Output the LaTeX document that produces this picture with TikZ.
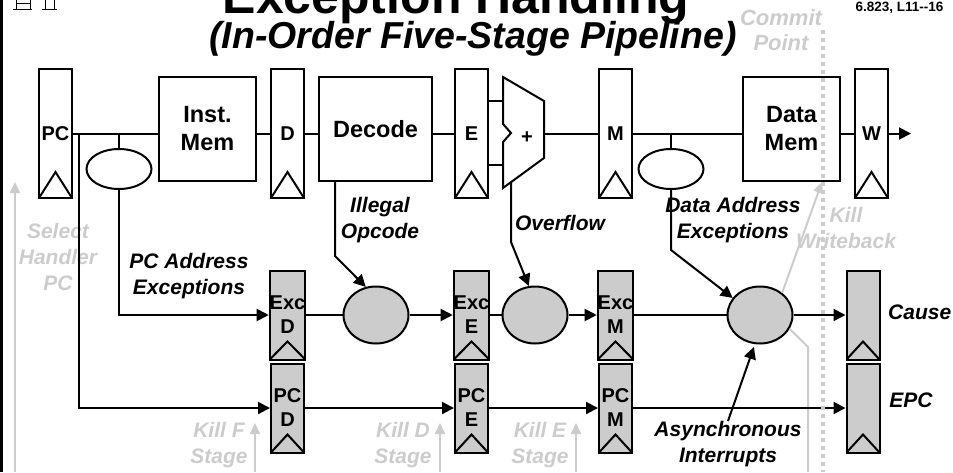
\documentclass[tikz,border=0pt]{standalone}
\usepackage{fontspec}
\setmainfont{Liberation Sans}
\usepackage{xcolor}
\usetikzlibrary{arrows.meta, positioning, calc, shapes.geometric}
\definecolor{killgrey}{gray}{0.8}
\definecolor{regfill}{gray}{0.8}
\newcommand\regfont{\fontsize{20}{24}\selectfont\bfseries}
\newcommand\boxfont{\fontsize{23.5}{28}\selectfont\bfseries}
\newcommand\lblfont{\fontsize{21}{26}\selectfont\bfseries\itshape}
\newcommand\cmtfont{\fontsize{22}{25}\selectfont\bfseries\itshape}
\tikzset{
  reg/.style   = {rectangle, draw, line width=2pt, fill=white, minimum width=33pt,
                  minimum height=129pt, inner sep=0pt, align=center, font=\regfont,
                  path picture={\draw[line width=2pt]
                    (path picture bounding box.south west)
                    -- ([yshift=#1]path picture bounding box.south)
                    -- (path picture bounding box.south east);}},
  reg/.default = 26pt,
  greg/.style  = {reg=18pt, fill=regfill, minimum height=89pt},
  mem/.style   = {rectangle, draw, line width=2pt, fill=white, minimum width=97pt,
                  minimum height=104pt, inner sep=0pt, align=center, font=\boxfont},
  oval/.style  = {ellipse, draw, line width=2pt, fill=white, minimum width=65pt,
                  minimum height=40pt, inner sep=0pt},
  goval/.style = {oval, fill=regfill, minimum height=57pt},
  wire/.style  = {line width=2pt},
  arr/.style   = {-{Triangle[length=12pt, width=12pt]}, line width=2pt},
  garr/.style  = {-{Triangle[length=11pt, width=10pt]}, line width=2pt, draw=killgrey},
  gwire/.style = {line width=2pt, draw=killgrey},
  commit/.style = {line width=4pt, draw=killgrey, dash pattern=on 4pt off 4pt},
  lbl/.style   = {font=\lblfont, align=center, inner sep=0pt},
  glbl/.style  = {lbl, text=killgrey},
}

\begin{document}
\begin{tikzpicture}[x=1pt, y=-1pt]
  \useasboundingbox (0,0) rectangle (953,472);

  % slide frame, logos, titles
  \fill (0,0) rectangle (3,472);
  \draw[line width=0.7pt] (13,9) -- (32,9) (16,9) -- (16,0) (30,9) -- (30,0)
    (16,3) -- (30,3);
  \draw[line width=0.7pt] (42,9) -- (57,9) (45,9) -- (45,0) (54,9) -- (54,0);
  \node[anchor=base, font=\fontsize{50}{60}\selectfont\bfseries] (title)
    at (456,13) {Exception Handling};
  \node[anchor=base, font=\fontsize{37.5}{44}\selectfont\bfseries\itshape] (subtitle)
    at (473,48) {(In-Order Five-Stage Pipeline)};
  \node[anchor=base east, font=\fontsize{13.5}{16}\selectfont\bfseries] (lecref)
    at (947,11) {6.823, L11-{}-16};

  % kill signals (grey)
  \node[glbl] (sel) at (58,257) {Select\\Handler\\PC};
  \node[glbl] (killf) at (219,445) {Kill F\\Stage};
  \node[glbl] (killd) at (403,445) {Kill D\\Stage};
  \node[glbl] (kille) at (540,445) {Kill E\\Stage};
  \node[glbl] (killw) at (846,228) {Kill\\Writeback};
  \node[glbl, font=\cmtfont] (cmt) at (781,30) {Commit\\Point};

  \coordinate (selbot) at (15,472);   \coordinate (seltip) at (15,182);
  \coordinate (kfbot) at (255,472);   \coordinate (kftip) at (255,423);
  \coordinate (kdbot) at (440,472);   \coordinate (kdtip) at (440,423);
  \coordinate (kebot) at (576,472);   \coordinate (ketip) at (576,423);
  \coordinate (kwtip) at (822,182);
  \coordinate (gbend) at (808,347);   \coordinate (gbot) at (808,472);

  \draw[garr] (selbot) -- (seltip);
  \draw[garr] (kfbot) -- (kftip);
  \draw[garr] (kdbot) -- (kdtip);
  \draw[garr] (kebot) -- (ketip);

  % pipeline
  \node[reg] (pc) at (55.5,133.5) {PC};
  \node[mem] (imem) at (207.5,129) {Inst.\\Mem};
  \node[reg] (dreg) at (287.5,133.5) {D};
  \node[mem, minimum width=113pt] (dec) at (375.5,129) {Decode};
  \node[reg] (ereg) at (471.5,133.5) {E};
  \node[reg] (mreg) at (615.5,133.5) {M};
  \node[mem] (dmem) at (791.5,129) {Data\\Mem};
  \node[reg] (wreg) at (871.5,133.5) {W};

  \node[oval] (ovf) at (119,169) {};
  \node[oval] (ovdm) at (671,169) {};

  % ALU
  \coordinate (aluA) at (503,101);
  \coordinate (aluB) at (503,165);
  \coordinate (aluO) at (544,133.5);
  \coordinate (aluS) at (511,182);
  \draw[wire] (503,77) -- (544,101) -- (544,158) -- (503,188) -- (503,142)
    -- (511,133) -- (503,124) -- cycle;
  \node[font=\regfont] (plus) at (527,138) {+};

  \coordinate (brpc) at (79,133.5);
  \coordinate (brim) at (119,133.5);
  \coordinate (brdm) at (671,133.5);
  \coordinate (wout) at (911,133.5);

  \draw[wire] (pc.east) -- (pc.east -| imem.west);
  \draw[wire] (imem.east |- dreg.west) -- (dreg.west);
  \draw[wire] (dreg.east) -- (dreg.east -| dec.west);
  \draw[wire] (dec.east |- ereg.west) -- (ereg.west);
  \draw[wire] (ereg.east |- aluA) -- (aluA);
  \draw[wire] (ereg.east |- aluB) -- (aluB);
  \draw[wire] (aluO) -- (aluO -| mreg.west);
  \draw[wire] (mreg.east) -- (mreg.east -| dmem.west);
  \draw[wire] (dmem.east |- wreg.west) -- (wreg.west);
  \draw[arr] (wreg.east) -- (wout);

  % exception and PC pipelines
  \node[greg] (excd) at (287.5,315) {Exc\\D};
  \node[greg] (exce) at (471.5,315) {Exc\\E};
  \node[greg] (excm) at (615.5,315) {Exc\\M};
  \node[greg] (cause) at (863,315) {};
  \node[greg] (pcd) at (287.5,408) {PC\\D};
  \node[greg] (pce) at (471.5,408) {PC\\E};
  \node[greg] (pcm) at (615.5,408) {PC\\M};
  \node[greg] (epc) at (863,408) {};

  \node[goval] (ovd) at (376,315) {};
  \node[goval] (ove) at (535,315) {};
  \node[goval] (ovm) at (760,315) {};

  \draw[gwire] (ovm.-25) -- (gbend) -- (gbot);
  \draw[garr] (ovm.45) -- (kwtip);

  \draw[wire] (brim) -- (ovf.north);
  \draw[arr] (ovf.south) |- (excd.west);
  \draw[arr] (brpc) |- (pcd.west);
  \draw[wire] (brdm) -- (ovdm.north);

  \draw[wire] (excd.east) -- (ovd.west);
  \draw[arr] (ovd.east) -- (exce.west);
  \draw[wire] (exce.east) -- (ove.west);
  \draw[arr] (ove.east) -- (excm.west);
  \draw[wire] (excm.east) -- (ovm.west);
  \draw[arr] (ovm.east) -- (cause.west);

  \draw[arr] (pcd.east) -- (pce.west);
  \draw[arr] (pce.east) -- (pcm.west);
  \draw[arr] (pcm.east) -- (epc.west);

  % exception sources
  \node[lbl] (illop) at (380,220) {Illegal\\Opcode};
  \node[lbl] (ovfl) at (560,223) {Overflow};
  \node[lbl] (dax) at (733,220) {Data Address\\Exceptions};
  \node[lbl] (pcax) at (189,276) {PC Address\\Exceptions};
  \node[lbl] (async) at (728,444) {Asynchronous\\Interrupts};
  \node[lbl, anchor=west] (causel) at (888,312) {Cause};
  \node[lbl] (epcl) at (911,400) {EPC};

  \draw[arr] ([xshift=-40.5pt]dec.south) -- ++(0,74) -- (ovd.110);
  \draw[arr] (aluS) -- ++(0,60) -- (ove.102);
  \draw[arr] (ovdm.south) -- ++(0,60) -- (ovm.148);
  \draw[arr, shorten >=3pt] (async.north) -- (ovm.-100);

  % commit point
  \coordinate (cmttop) at (823,30);
  \coordinate (cmtbot) at (823,472);
  \draw[commit] (cmttop) -- (cmtbot);
\end{tikzpicture}
\end{document}
